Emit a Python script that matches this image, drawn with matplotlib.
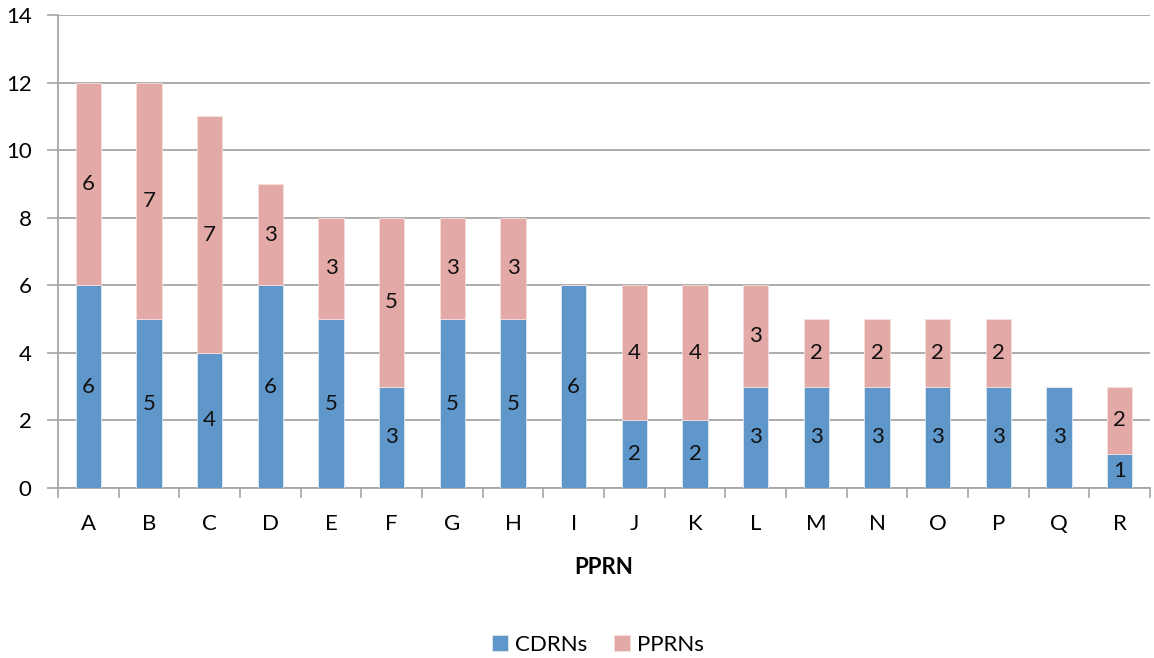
import matplotlib
matplotlib.use("Agg")
import matplotlib.pyplot as plt
import numpy as np

plt.rcParams['font.family'] = ['Lato', 'DejaVu Sans']

categories = list("ABCDEFGHIJKLMNOPQR")
cdrns = [6, 5, 4, 6, 5, 3, 5, 5, 6, 2, 2, 3, 3, 3, 3, 3, 3, 1]
pprns = [6, 7, 7, 3, 3, 5, 3, 3, 0, 4, 4, 3, 2, 2, 2, 2, 0, 2]
y_ticks = [0, 2, 4, 6, 8, 10, 12, 14]

blue = "#6097CB"
pink = "#E3A9A7"
grid_c = "#A6A6A6"

fig = plt.figure(figsize=(11.54, 6.58), dpi=100)
ax = fig.add_axes([58/1154, 1 - 488/658, 1092/1154, 473/658])

x = np.arange(len(categories))
w = 0.42
b1 = ax.bar(x, cdrns, w, color=blue, edgecolor="#DDE8F4", linewidth=0.6, label="CDRNs", zorder=3)
b2 = ax.bar(x, pprns, w, bottom=cdrns, color=pink, edgecolor="#F5DEDD", linewidth=0.6, label="PPRNs", zorder=3)

for xi, c, p in zip(x, cdrns, pprns):
    if c:
        ax.text(xi, c / 2, str(c), ha="center", va="center", fontsize=16, color="#111111", zorder=4)
    if p:
        ax.text(xi, c + p / 2, str(p), ha="center", va="center", fontsize=16, color="#111111", zorder=4)

ax.set_xlim(-0.5, len(categories) - 0.5)
ax.set_ylim(0, 14)
ax.set_yticks(y_ticks)
ax.set_yticklabels([str(v) for v in y_ticks], fontsize=16)
ax.set_xticks(x)
ax.set_xticklabels(categories, fontsize=16)
ax.set_xticks(np.arange(-0.5, len(categories)), minor=True)
ax.tick_params(axis="x", which="major", length=0, pad=19)
ax.tick_params(axis="x", which="minor", length=7, width=1.2, color=grid_c)
ax.tick_params(axis="y", length=8, width=1.2, color=grid_c, pad=11)

ax.yaxis.grid(True, color=grid_c, linewidth=1.3, zorder=0)
ax.set_axisbelow(True)
for s in ["top", "right"]:
    ax.spines[s].set_visible(False)
for s in ["left", "bottom"]:
    ax.spines[s].set_color(grid_c)
    ax.spines[s].set_linewidth(1.3)

ax.set_xlabel("PPRN", fontsize=16, fontweight="bold", labelpad=16)

fig.legend(handles=[b1, b2], labels=["CDRNs", "PPRNs"], loc="center", bbox_to_anchor=(0.518, 1 - 645/658),
           ncol=2, frameon=False, fontsize=16, handlelength=0.75, handleheight=0.75, handletextpad=0.3, columnspacing=1.2)

fig.savefig("out.png", dpi=100)
